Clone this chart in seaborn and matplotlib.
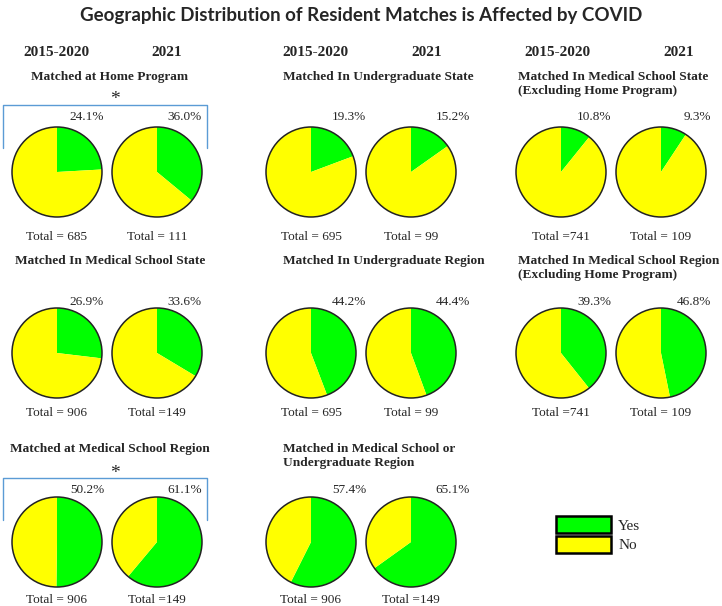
import matplotlib
matplotlib.use("Agg")
import matplotlib.pyplot as plt
import matplotlib.patches as mpatches
import seaborn as sns

# panel data (row by row, left to right)
panel_titles = [
    "Matched at Home Program",
    "Matched In Undergraduate State",
    "Matched In Medical School State\n(Excluding Home Program)",
    "Matched In Medical School State",
    "Matched In Undergraduate Region",
    "Matched In Medical School Region\n(Excluding Home Program)",
    "Matched at Medical School Region",
    "Matched in Medical School or\nUndergraduate Region",
]
pct_2015_2020 = [24.1, 19.3, 10.8, 26.9, 44.2, 39.3, 50.2, 57.4]
pct_2021 = [36.0, 15.2, 9.3, 33.6, 44.4, 46.8, 61.1, 65.1]
total_2015_2020 = ["Total = 685", "Total = 695", "Total =741",
                   "Total = 906", "Total = 695", "Total =741",
                   "Total = 906", "Total = 906"]
total_2021 = ["Total = 111", "Total = 99", "Total = 109",
              "Total =149", "Total = 99", "Total = 109",
              "Total =149", "Total =149"]
significant = [True, False, False, False, False, False, True, False]
periods = ["2015-2020", "2021"]
answers = ["Yes", "No"]

sns.set_theme(style="white")
colors = {"Yes": "#00FF00", "No": "#FFFF00"}
serif = ["Liberation Serif", "DejaVu Serif"]

W, H = 722, 606
fig = plt.figure(figsize=(W / 100, H / 100), dpi=100)


def fx(x):
    return x / W


def fy(y):
    return 1 - y / H


# layout in pixels
pie1_x = [57, 311, 561]
row_y = [172, 353, 542]
pct_y = [117, 302, 490]
total_y = [237, 413, 600]
title_y = [78, 262, 450]
pct_right = [[104, 202], [366, 470], [611, 711]]
header_x = [[56, 167], [315, 427], [557, 679]]
r = 45

fig.text(0.5, fy(16), "Geographic Distribution of Resident Matches is Affected by COVID",
         ha="center", va="center", fontsize=13.5, fontweight="bold", family="Lato")

for g in range(3):
    for k in range(2):
        fig.text(fx(header_x[g][k]), fy(53), periods[k], ha="center", va="center",
                 fontsize=11, fontweight="bold", family=serif)

for i, title in enumerate(panel_titles):
    row, col = divmod(i, 3)
    cy = row_y[row]
    tx, ha = [(110, "center"), (283, "left"), (518, "left")][col]
    fig.text(fx(tx), fy(title_y[row] - 7), title, ha=ha, va="top",
             fontsize=9.6, fontweight="bold", family=serif, linespacing=1.25)
    vals = [pct_2015_2020[i], pct_2021[i]]
    tots = [total_2015_2020[i], total_2021[i]]
    for k in range(2):
        cx = pie1_x[col] + 100 * k
        pad = 2
        ax = fig.add_axes([fx(cx - r - pad), fy(cy + r + pad),
                           (2 * r + 2 * pad) / W, (2 * r + 2 * pad) / H])
        ax.pie([vals[k], 100 - vals[k]], colors=[colors[a] for a in answers],
               startangle=90, counterclock=False,
               wedgeprops=dict(linewidth=0))
        ax.add_patch(mpatches.Circle((0, 0), 1, fill=False, edgecolor="#222222", linewidth=1.1))
        lim = 1 + pad / r
        ax.set_xlim(-lim, lim)
        ax.set_ylim(-lim, lim)
        ax.set_aspect("equal")
        ax.axis("off")
        fig.text(fx(pct_right[col][k]), fy(pct_y[row]), f"{vals[k]:.1f}%",
                 ha="right", va="center", fontsize=9.5, family=serif)
        fig.text(fx(cx), fy(total_y[row]), tots[k], ha="center", va="center",
                 fontsize=9.5, family=serif)
    if significant[i]:
        top = pct_y[row] - 12
        bottom = cy - 24 if row == 0 else cy - 22
        bx = fig.add_axes([0, 0, 1, 1], facecolor="none")
        bx.set_xlim(0, W)
        bx.set_ylim(H, 0)
        bx.axis("off")
        bx.plot([3, 3, 207, 207], [bottom, top, top, bottom], color="#5B9BD5", lw=1)
        fig.text(fx(115), fy(top - 5), "*", ha="center", va="center",
                 fontsize=14, family=serif)

# legend
handles = [mpatches.Patch(facecolor=colors[a], edgecolor="black", linewidth=1.8, label=a)
           for a in answers]
leg = fig.legend(handles=handles, loc="upper left", bbox_to_anchor=(fx(548), fy(508)),
                 frameon=False, handlelength=3.6, handleheight=1.4, handletextpad=0.5,
                 labelspacing=0.15, prop={"family": serif, "size": 11}, borderpad=0)

fig.savefig("out.png", dpi=100, facecolor="white")
